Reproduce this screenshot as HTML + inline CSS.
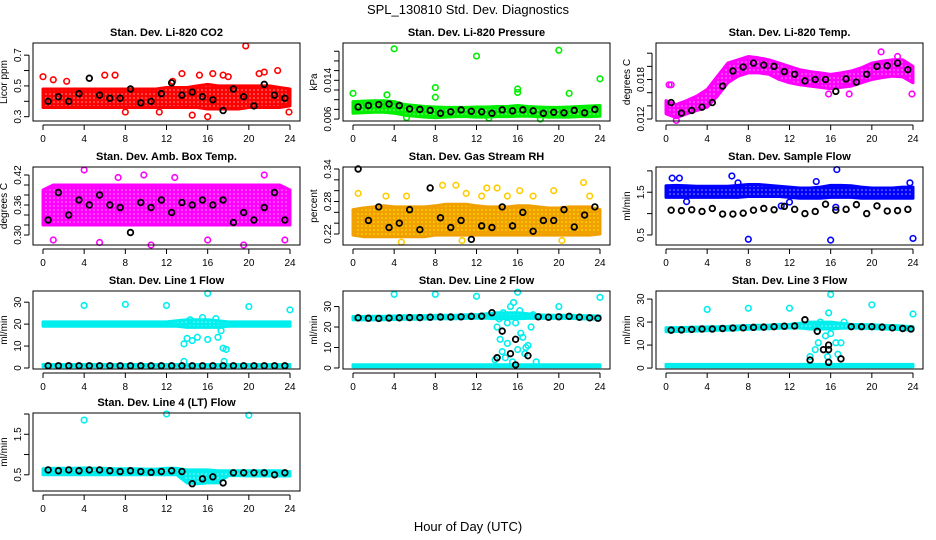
<!DOCTYPE html>
<html><head><meta charset="utf-8"><style>
body{margin:0;background:#fff;}
svg{display:block;font-family:"Liberation Sans",sans-serif;}
</style></head><body>
<svg id="chart" width="936" height="540" viewBox="0 0 936 540" xmlns="http://www.w3.org/2000/svg">
<defs id="defs"></defs>
<text x="468" y="14" text-anchor="middle" font-size="13">SPL_130810  Std. Dev. Diagnostics</text>
<text x="468" y="531" text-anchor="middle" font-size="13">Hour of Day (UTC)</text>
</svg>
<script>
// ---- data ----
const hours = [0,1,2,3,4,5,6,7,8,9,10,11,12,13,14,15,16,17,18,19,20,21,22,23,24];
const blackHours = [0.5,1.5,2.5,3.5,4.5,5.5,6.5,7.5,8.5,9.5,10.5,11.5,12.5,13.5,14.5,15.5,16.5,17.5,18.5,19.5,20.5,21.5,22.5,23.5];

const co2Low  = [0.36,0.36,0.36,0.36,0.36,0.36,0.36,0.36,0.36,0.36,0.36,0.36,0.36,0.36,0.36,0.36,0.35,0.35,0.35,0.35,0.36,0.36,0.36,0.36,0.37];
const co2High = [0.48,0.48,0.48,0.48,0.48,0.48,0.48,0.48,0.48,0.48,0.48,0.48,0.49,0.49,0.49,0.50,0.51,0.50,0.50,0.50,0.50,0.50,0.50,0.49,0.48];
const co2OutX = [0,1,2.3,6,7,8,12.6,13.5,14.5,15.2,16,16.5,17.5,18,19.7,21,21.5,22.8,23.9,11.3];
const co2OutY = [0.56,0.54,0.53,0.57,0.57,0.33,0.53,0.58,0.31,0.57,0.3,0.58,0.57,0.56,0.76,0.58,0.59,0.6,0.33,0.33];
const co2Black = [0.4,0.43,0.4,0.45,0.55,0.44,0.42,0.42,0.48,0.39,0.4,0.45,0.52,0.44,0.46,0.43,0.41,0.34,0.48,0.43,0.37,0.51,0.44,0.42];

const presLow  = [0.0072,0.0073,0.0074,0.0074,0.0072,0.0068,0.0066,0.0064,0.0063,0.0064,0.0065,0.0065,0.0064,0.0064,0.0065,0.0065,0.0066,0.0066,0.0065,0.0064,0.0064,0.0064,0.0065,0.0065,0.0066];
const presHigh = [0.0096,0.0097,0.0098,0.0098,0.0096,0.0090,0.0088,0.0086,0.0085,0.0084,0.0084,0.0084,0.0085,0.0085,0.0086,0.0086,0.0088,0.0086,0.0085,0.0084,0.0084,0.0085,0.0086,0.0087,0.0088];
const presOutX = [4,12,20,24,8,8,16,16,21,0,3.3,18.2,13.2,5.2];
const presOutY = [0.0205,0.0190,0.0202,0.0143,0.0125,0.0105,0.0115,0.0122,0.0113,0.0113,0.0110,0.0060,0.0062,0.0063];
const presBlack = [0.0085,0.0088,0.0090,0.0091,0.0088,0.0081,0.0080,0.0078,0.0072,0.0075,0.0079,0.0076,0.0075,0.0072,0.0079,0.0077,0.0079,0.0077,0.0072,0.0074,0.0073,0.0078,0.0073,0.0080];

const tempLow  = [0.0128,0.0122,0.0128,0.0133,0.0138,0.0155,0.0175,0.0185,0.0190,0.0190,0.0188,0.0180,0.0175,0.0172,0.0170,0.0168,0.0166,0.0168,0.0170,0.0175,0.0180,0.0183,0.0185,0.0184,0.0175];
const tempHigh = [0.0148,0.0142,0.0148,0.0155,0.0165,0.0185,0.0205,0.0210,0.0215,0.0213,0.0210,0.0205,0.0200,0.0195,0.0192,0.0190,0.0188,0.0190,0.0193,0.0198,0.0205,0.0208,0.0210,0.0210,0.0200];
const tempOutX = [0.5,1,15.8,17.8,20.9,23.9,22.5,0.3];
const tempOutY = [0.0172,0.0118,0.0158,0.0158,0.0222,0.0158,0.0215,0.0172];
const tempBlack = [0.0145,0.0129,0.0133,0.0138,0.0145,0.0170,0.0193,0.0199,0.0205,0.0202,0.0200,0.0192,0.0188,0.0178,0.0180,0.0180,0.0162,0.0181,0.0176,0.0188,0.0200,0.0201,0.0205,0.0195];

const ambLow  = [0.32,0.32,0.32,0.32,0.32,0.32,0.32,0.32,0.32,0.32,0.32,0.32,0.32,0.32,0.32,0.32,0.32,0.32,0.32,0.32,0.32,0.32,0.32,0.32,0.32];
const ambHigh = [0.39,0.40,0.40,0.40,0.40,0.40,0.40,0.40,0.40,0.40,0.40,0.40,0.40,0.40,0.40,0.40,0.40,0.40,0.40,0.40,0.40,0.40,0.40,0.40,0.39];
const ambOutX = [1,4,5.5,10.5,16,19.5,21.5,23.5,9.8,7.3,12.8];
const ambOutY = [0.29,0.43,0.285,0.28,0.29,0.28,0.42,0.29,0.42,0.415,0.415];
const ambBlack = [0.33,0.385,0.34,0.37,0.36,0.38,0.36,0.355,0.305,0.365,0.355,0.37,0.345,0.365,0.36,0.37,0.36,0.37,0.325,0.345,0.33,0.355,0.385,0.33];

const rhLow  = [0.218,0.215,0.215,0.215,0.215,0.215,0.215,0.215,0.218,0.218,0.218,0.218,0.218,0.218,0.218,0.218,0.218,0.218,0.218,0.218,0.218,0.218,0.218,0.218,0.22];
const rhHigh = [0.265,0.268,0.27,0.272,0.27,0.27,0.27,0.27,0.272,0.275,0.275,0.275,0.272,0.27,0.27,0.27,0.272,0.272,0.27,0.268,0.268,0.27,0.27,0.27,0.265];
const rhOutX = [0.5,8.7,10,13,14,15,16.2,19.5,22.4,10.6,20.3,4.7,3.2,5.2,11,12.5,17.5,23];
const rhOutY = [0.295,0.31,0.31,0.305,0.305,0.29,0.3,0.3,0.315,0.208,0.208,0.205,0.29,0.29,0.295,0.29,0.29,0.29];
const rhBlackY = [0.34,0.245,0.27,0.232,0.24,0.265,0.228,0.305,0.25,0.232,0.245,0.21,0.235,0.232,0.27,0.235,0.26,0.225,0.245,0.245,0.265,0.233,0.255,0.27];

const flowLow  = [1.38,1.38,1.38,1.38,1.38,1.38,1.38,1.38,1.40,1.40,1.40,1.40,1.38,1.36,1.36,1.36,1.38,1.38,1.38,1.36,1.36,1.36,1.36,1.36,1.36];
const flowHigh = [1.65,1.66,1.65,1.64,1.64,1.64,1.64,1.66,1.68,1.68,1.66,1.64,1.62,1.60,1.60,1.62,1.66,1.66,1.65,1.62,1.60,1.60,1.60,1.62,1.62];
const flowOutX = [0.6,1.3,6.4,16.6,8,16,24,16.5,11.2,2,12,14.6,7,23.7];
const flowOutY = [1.83,1.83,1.88,2.03,0.4,0.38,0.42,1.15,1.18,1.28,1.27,1.75,1.72,1.72];
const flowBlack = [1.08,1.07,1.09,1.05,1.12,0.99,0.99,1.01,1.08,1.12,1.09,1.17,1.1,1.0,1.05,1.22,1.08,1.1,1.21,1.0,1.18,1.06,1.07,1.1];

const l1Low  = [19,19,19,19,19,19,19,19,19,19,19,19,19,19,18.5,18.5,18.5,18.5,19,19,19,19,19,19,19];
const l1High = [21,21,21,21,21,21,21,21,21,21,21,21,21,21.5,22,22,22,21.5,21,21,21,21,21,21,21];
const l1OutX = [4,8,12,16,20,24,13.7,14,14.5,15,16,17,17.5,17.8,17.3,14.3,15.5,16.8,13.7,17.6];
const l1OutY = [28.5,29,28.5,34,28,26.5,11,13.5,12.5,14,13,14,9,8.5,17,22,23,22.5,3,3];
const l1Black = [1,1,1,1,1,1,1,1,1,1,1,1,1,1,1,1,1,1,1,1,1,1,1,1];

const l2Low  = [23.5,23.5,23.5,23.6,23.7,23.8,23.8,23.9,24,24,24,24.2,24.3,24.3,24,24,24,24.2,24.3,24.2,24.2,24.2,24,23.9,23.8];
const l2High = [25.2,25.2,25.3,25.3,25.4,25.5,25.5,25.6,25.7,25.8,25.8,26,26,26.5,27,27,27,26.5,26,25.8,25.8,25.8,25.6,25.5,25.4];
const l2OutX = [4,8,12,16,20,24,14,14.3,14.5,15,15.3,15.6,15.8,16.2,16.5,16.8,17,17.3,17.5,14.8,15.5,16.7,14.2,15,16,13.8,17.8,14.6,16.3];
const l2OutY = [36,36,35,37,30,34.5,20,14,8,12,30,32,22,28,15,10,11,20,26,5,3,7,24,22,9,4,3,27,17];
const l2BlackX = [0.5,1.5,2.5,3.5,4.5,5.5,6.5,7.5,8.5,9.5,10.5,11.5,12.5,13.5,14,14.5,15.3,15.8,15.8,17,18,19,20,21,22,23,23.8];
const l2BlackY = [24.5,24.3,24.2,24.4,24.5,24.6,24.6,24.8,24.9,24.9,25,25.2,25.3,27,5,18,7,14,1.5,6,25,24.8,25,25.2,24.8,24.5,24.3];
const baseLow  = [0.6,0.6,0.6,0.6,0.6,0.6,0.6,0.6,0.6,0.6,0.6,0.6,0.6,0.6,0.6,0.6,0.6,0.6,0.6,0.6,0.6,0.6,0.6,0.6,0.6];
const baseHigh = [1.6,1.6,1.6,1.6,1.6,1.6,1.6,1.6,1.6,1.6,1.6,1.6,1.6,1.6,1.6,1.6,1.6,1.6,1.6,1.6,1.6,1.6,1.6,1.6,1.6];

const l3Low  = [15.8,15.9,16,16.1,16.2,16.4,16.5,16.7,16.9,17,17.1,17.3,17.4,17.4,17,17,17,17.3,17.4,17.3,17.2,17,16.9,16.7,16.5];
const l3High = [17.5,17.6,17.7,17.8,17.9,18,18.1,18.3,18.5,18.6,18.7,18.9,19,19.5,20,20,20,19.5,19,18.9,18.8,18.6,18.5,18.3,18];
const l3OutX = [4,8,12,16,20,24,14,14.5,14.8,15,15.5,15.7,16,16.5,16.7,17,14.5,15.8,17.3];
const l3OutY = [25.5,26,26,32,27.5,23.5,5,8,11,20,14,5,15,11,6,11,19,24,20];
const l3BlackX = [0.5,1.5,2.5,3.5,4.5,5.5,6.5,7.5,8.5,9.5,10.5,11.5,12.5,13.5,14,14.7,15.3,15.8,15.8,15.8,17,18,19,20,21,22,23,23.8];
const l3BlackY = [16.5,16.6,16.8,17,17,17.2,17.4,17.5,17.7,17.8,18,18.2,18.3,21,3.5,16,8,10,8,2.5,4,18,18,18,17.8,17.5,17.2,17];

const l4Low  = [0.5,0.5,0.5,0.5,0.5,0.5,0.5,0.5,0.5,0.5,0.5,0.5,0.5,0.5,0.3,0.28,0.3,0.3,0.48,0.48,0.47,0.47,0.47,0.47,0.47];
const l4High = [0.65,0.66,0.66,0.66,0.67,0.66,0.66,0.65,0.65,0.65,0.64,0.64,0.66,0.66,0.62,0.62,0.62,0.6,0.6,0.6,0.6,0.6,0.6,0.6,0.58];
const l4OutX = [4,12,20];
const l4OutY = [1.85,2.0,1.97];
const l4Black = [0.62,0.6,0.62,0.6,0.62,0.62,0.6,0.58,0.6,0.58,0.56,0.58,0.6,0.58,0.28,0.4,0.45,0.3,0.55,0.55,0.55,0.55,0.5,0.55];

const NS = "http://www.w3.org/2000/svg";
const svg = document.getElementById('chart');
const defs = document.getElementById('defs');
function mk(tag, attrs, parent){
  const e = document.createElementNS(NS, tag);
  for (const k in attrs) e.setAttribute(k, attrs[k]);
  (parent||svg).appendChild(e);
  return e;
}
const colL = [33, 343, 656], colW = 267;
const rowT = [43, 167, 291, 413], rowH = 78;

const panels = [
 {key:'co2',title:'Stan. Dev. Li-820 CO2',ylab:'Licor ppm',c:0,r:0,ymin:0.272,ymax:0.779,ticks:[0.3,0.4,0.5,0.6,0.7],labels:['0.3','','0.5','','0.7'],col:'#ff0000',bands:[[co2Low,co2High]],ox:co2OutX,oy:co2OutY,bx:blackHours,by:co2Black},
 {key:'pressure',title:'Stan. Dev. Li-820 Pressure',ylab:'kPa',c:1,r:0,ymin:0.0056,ymax:0.0217,ticks:[0.006,0.008,0.010,0.012,0.014,0.016,0.018,0.020],labels:['0.006','','','','0.014','','',''],col:'#00ee00',bands:[[presLow,presHigh]],ox:presOutX,oy:presOutY,bx:blackHours,by:presBlack},
 {key:'temp',title:'Stan. Dev. Li-820 Temp.',ylab:'degrees C',c:2,r:0,ymin:0.0117,ymax:0.02355,ticks:[0.012,0.014,0.016,0.018,0.020,0.022],labels:['0.012','','','0.018','',''],col:'#ff00ff',bands:[[tempLow,tempHigh]],ox:tempOutX,oy:tempOutY,bx:blackHours,by:tempBlack},
 {key:'ambbox',title:'Stan. Dev. Amb. Box Temp.',ylab:'degrees C',c:0,r:1,ymin:0.28,ymax:0.436,ticks:[0.30,0.32,0.34,0.36,0.38,0.40,0.42],labels:['0.30','','','0.36','','','0.42'],col:'#ff00ff',bands:[[ambLow,ambHigh]],ox:ambOutX,oy:ambOutY,bx:blackHours,by:ambBlack},
 {key:'rh',title:'Stan. Dev. Gas Stream RH',ylab:'percent',c:1,r:1,ymin:0.1997,ymax:0.3437,ticks:[0.22,0.24,0.26,0.28,0.30,0.32,0.34],labels:['0.22','','','0.28','','','0.34'],col:'#f0a000',dot:'#ffee00',bands:[[rhLow,rhHigh]],ox:rhOutX,oy:rhOutY,bx:blackHours,by:rhBlackY},
 {key:'sampleflow',title:'Stan. Dev. Sample Flow',ylab:'ml/min',c:2,r:1,ymin:0.266,ymax:2.09,ticks:[0.5,1.0,1.5,2.0],labels:['0.5','','1.5',''],col:'#0000ff',bands:[[flowLow,flowHigh]],ox:flowOutX,oy:flowOutY,bx:blackHours,by:flowBlack},
 {key:'line1',title:'Stan. Dev. Line 1 Flow',ylab:'ml/min',c:0,r:2,ymin:-0.46,ymax:35.1,ticks:[0,10,20,30],labels:['0','10','20','30'],col:'#00eeee',bands:[[l1Low,l1High],[baseLow,baseHigh]],ox:l1OutX,oy:l1OutY,bx:blackHours,by:l1Black},
 {key:'line2',title:'Stan. Dev. Line 2 Flow',ylab:'ml/min',c:1,r:2,ymin:-0.5,ymax:37.6,ticks:[0,10,20,30],labels:['0','10','20','30'],col:'#00eeee',bands:[[l2Low,l2High],[baseLow,baseHigh]],ox:l2OutX,oy:l2OutY,bx:l2BlackX,by:l2BlackY},
 {key:'line3',title:'Stan. Dev. Line 3 Flow',ylab:'ml/min',c:2,r:2,ymin:-0.4,ymax:33.5,ticks:[0,10,20,30],labels:['0','10','20','30'],col:'#00eeee',bands:[[l3Low,l3High],[baseLow,baseHigh]],ox:l3OutX,oy:l3OutY,bx:l3BlackX,by:l3BlackY},
 {key:'line4',title:'Stan. Dev. Line 4 (LT) Flow',ylab:'ml/min',c:0,r:3,ymin:0.1,ymax:2.025,ticks:[0.5,1.0,1.5,2.0],labels:['0.5','','1.5',''],col:'#00eeee',bands:[[l4Low,l4High]],ox:l4OutX,oy:l4OutY,bx:blackHours,by:l4Black}
];
const xTicks = [0,4,8,12,16,20,24];

panels.forEach(p=>{
  const L = colL[p.c], T = rowT[p.r], R = L+colW, B = T+rowH;
  const xs = v => L+10 + v/24*(colW-20);
  const ys = v => B - (v-p.ymin)/(p.ymax-p.ymin)*rowH;
  const pat = mk('pattern',{id:'pat-'+p.key,width:4,height:4,patternUnits:'userSpaceOnUse'},defs);
  mk('rect',{x:0,y:0,width:4,height:4,fill:p.col},pat);
  mk('circle',{cx:2,cy:2,r:0.8,fill:p.dot||'#ffffff','fill-opacity':p.dot?1:0.6},pat);
  const g = mk('g',{});
  
  
  const t = mk('text',{x:(L+R)/2,y:T-7,'text-anchor':'middle','font-size':11,'font-weight':'bold'},g);
  t.textContent = p.title;
  
  
  const yl = mk('text',{x:L-26,y:(T+B)/2,'text-anchor':'middle','font-size':10,transform:`rotate(-90 ${L-26} ${(T+B)/2})`},g);
  yl.textContent = p.ylab;
  
  
  p.bands.forEach((bd,bi)=>{
    let d = hours.map((h,i)=>(i?'L':'M')+xs(h).toFixed(1)+','+ys(bd[1][i]).toFixed(1)).join('');
    for(let i=hours.length-1;i>=0;i--) d += 'L'+xs(hours[i]).toFixed(1)+','+ys(bd[0][i]).toFixed(1);
    const band = mk('path',{d:d+'Z',fill:'url(#pat-'+p.key+')',stroke:p.col,'stroke-width':3,'stroke-linejoin':'round'},g);
    
    
  });
  p.ox.forEach((x,i)=>{
    const c = mk('circle',{cx:xs(x),cy:ys(p.oy[i]),r:2.8,fill:'none',stroke:p.key==='rh'?'#ffcc00':p.col,'stroke-width':1.6},g);
    
    
  });
  p.bx.forEach((x,i)=>{
    const c = mk('circle',{cx:xs(x),cy:ys(p.by[i]),r:2.8,fill:'none',stroke:'#000','stroke-width':1.8},g);
    
    
  });
  const box = mk('rect',{x:L,y:T,width:colW,height:rowH,fill:'none',stroke:'#000','stroke-width':1},g);
  
  
  const xa = mk('g',{},g);
  
  
  mk('line',{x1:xs(0),x2:xs(24),y1:B+4,y2:B+4,stroke:'#000'},xa);
  xTicks.forEach(v=>{
    mk('line',{x1:xs(v),x2:xs(v),y1:B+4,y2:B+9,stroke:'#000'},xa);
    const tx = mk('text',{x:xs(v),y:B+21,'text-anchor':'middle','font-size':10},xa);
    tx.textContent = v;
  });
  const ya = mk('g',{},g);
  
  
  const t0 = ys(p.ticks[0]), t1 = ys(p.ticks[p.ticks.length-1]);
  mk('line',{x1:L-4,x2:L-4,y1:t0,y2:t1,stroke:'#000'},ya);
  p.ticks.forEach((v,i)=>{
    mk('line',{x1:L-4,x2:L-9,y1:ys(v),y2:ys(v),stroke:'#000'},ya);
    if(p.labels[i]){
      const tx = mk('text',{x:L-12,y:ys(v),'text-anchor':'middle','font-size':10,transform:`rotate(-90 ${L-12} ${ys(v)})`},ya);
      tx.textContent = p.labels[i];
    }
  });
});
</script>
</body></html>
